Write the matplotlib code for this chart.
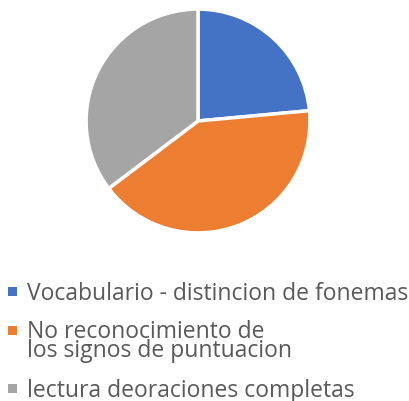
import matplotlib.pyplot as plt
from matplotlib.patches import Rectangle

labels = ["Vocabulario - distincion de fonemas",
          "No reconocimiento de\nlos signos de puntuacion",
          "lectura deoraciones completas"]
values = [4, 7, 6]
colors = ["#4472C4", "#ED7D31", "#A5A5A5"]

fig = plt.figure(figsize=(4.10, 4.02), dpi=100)

# pie area
ax = fig.add_axes([(198 - 113) / 410, 1 - (122 + 113) / 402, 226 / 410, 226 / 402])
ax.pie(values, colors=colors, startangle=90, counterclock=False,
       wedgeprops={"edgecolor": "white", "linewidth": 2.5})
ax.set_xlim(-1.01, 1.01)
ax.set_ylim(-1.01, 1.01)
ax.set_aspect("equal")

# legend drawn by hand so the multi-line entry lines up like the original
text_y = [300, 357, 397]   # baseline of last line, px from top
box_y = [292.5, 331, 389]  # marker centre, px from top
for lab, col, ty, by in zip(labels, colors, text_y, box_y):
    fig.add_artist(Rectangle((8 / 410, 1 - (by + 4.5) / 402), 9 / 410, 9 / 402,
                             transform=fig.transFigure, color=col, lw=0))
    fig.text(27 / 410, 1 - ty / 402, lab, fontsize=16.5, family="Open Sans",
             color="#595959", va="baseline", ha="left", linespacing=0.72)

plt.savefig("out.png", dpi=100)
